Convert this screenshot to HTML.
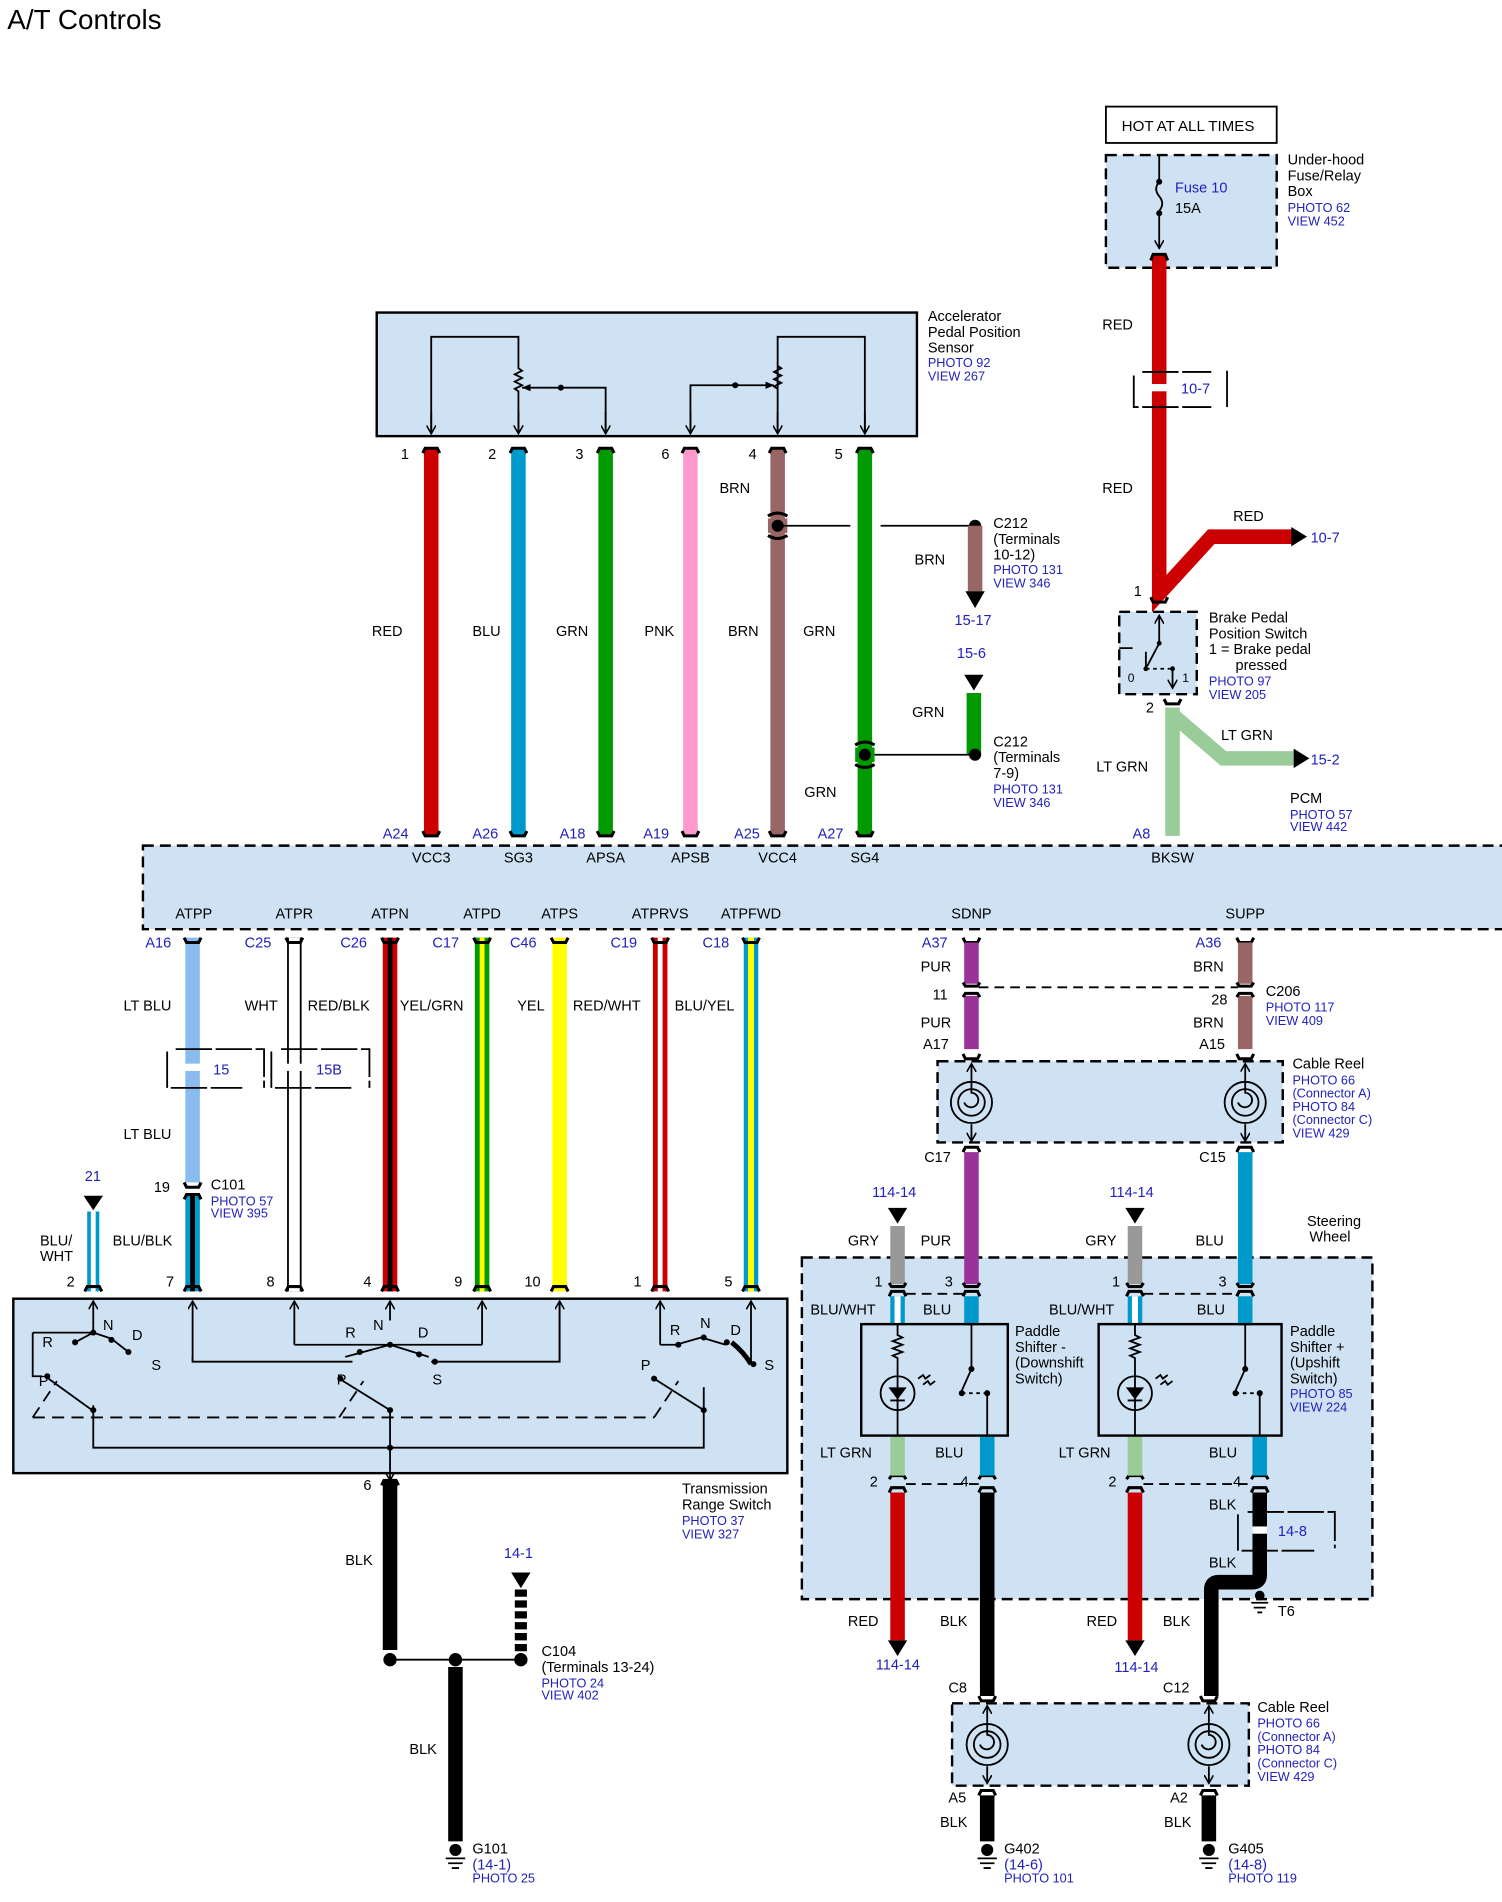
<!DOCTYPE html>
<html><head><meta charset="utf-8"><style>
html,body{margin:0;padding:0;background:#fff;}
svg{display:block;}
text{font-family:"Liberation Sans",Arial,sans-serif;font-size:12px;fill:#000;}
.b{fill:#2222bb;font-size:10.5px;}
.bl{fill:#2222bb;font-size:12px;}
g.bl text{fill:#2222bb;}
.s{font-size:10px;}
.box{fill:#cfe2f3;stroke:#000;stroke-width:2;}
.dbox{fill:#cfe2f3;stroke:#000;stroke-width:2;stroke-dasharray:9,5;}
.ln{fill:none;stroke:#000;stroke-width:1.5;}
.cn{fill:none;stroke:#000;stroke-width:2.5;}
</style></head><body>
<svg width="1502" height="1902" viewBox="0 0 1240 1570" preserveAspectRatio="none" xmlns="http://www.w3.org/2000/svg">
<defs>
<marker id="ar" markerWidth="8" markerHeight="8" refX="7" refY="4" orient="auto" markerUnits="userSpaceOnUse"><path d="M0,0 L7,4 L0,8" fill="none" stroke="#000" stroke-width="1.3"/></marker>
<marker id="af" markerWidth="8" markerHeight="8" refX="7" refY="4" orient="auto" markerUnits="userSpaceOnUse"><path d="M0,1 L7,4 L0,7 z" fill="#000"/></marker>
</defs>
<text x="6" y="24" style="font-size:23px">A/T Controls</text>

<!-- HOT AT ALL TIMES -->
<rect x="913" y="88" width="141" height="30" fill="#fff" stroke="#000" stroke-width="1.5"/>
<text x="926" y="108" style="font-size:12.5px">HOT AT ALL TIMES</text>
<rect x="913" y="128" width="141" height="93" class="dbox"/>
<path d="M957,128 V150 M957,150 q-5,6 0,12 q5,6 0,12 M957,174 V205" class="ln" marker-end="url(#ar)"/>
<circle cx="957" cy="150" r="2.5"/><circle cx="957" cy="176" r="2.5"/>
<text x="970" y="159" class="bl">Fuse 10</text><text x="970" y="176">15A</text>
<text x="1063" y="136">Under-hood</text><text x="1063" y="149">Fuse/Relay</text><text x="1063" y="162">Box</text>
<text x="1063" y="175" class="b">PHOTO 62</text><text x="1063" y="186" class="b">VIEW 452</text>

<!-- red wire -->
<path d="M957,210 V490 L1000,443 H1068" fill="none" stroke="#cc0000" stroke-width="12" stroke-linejoin="miter"/>
<path d="M1066,435 L1079,443 L1066,451 z"/>
<text x="1082" y="448" class="bl">10-7</text>
<text x="1018" y="430">RED</text>
<text x="910" y="272">RED</text><text x="910" y="407">RED</text>
<rect x="946" y="317" width="22" height="6" fill="#fff"/>
<path d="M936,310 V336 H1000 M943,307 H1000 M1013,306 V336" class="ln" stroke-width="1" stroke-dasharray="30,3"/>
<text x="975" y="325" class="bl">10-7</text>
<path d="M950,215 L952,210 H962 L964,215" class="cn"/>
<path d="M950,493 L952,497 H962 L964,493" class="cn"/>
<text x="936" y="492">1</text>

<!-- brake switch -->
<rect x="924" y="505" width="64" height="68" class="dbox"/>
<path d="M957,525 V508" class="ln" marker-end="url(#ar)"/>
<path d="M957,525 V531 L947,550" class="ln"/><circle cx="957" cy="531" r="2"/><circle cx="946" cy="552" r="2"/><circle cx="968" cy="552" r="2"/>
<path d="M946,552 H968" class="ln" stroke-dasharray="3,3"/><path d="M968,552 V568" class="ln" marker-end="url(#ar)"/>
<path d="M924,535 H935 M946,538 V552" class="ln"/>
<text x="931" y="563" class="s">0</text><text x="976" y="563" class="s">1</text>
<text x="998" y="514">Brake Pedal</text><text x="998" y="527">Position Switch</text><text x="998" y="540">1 = Brake pedal</text><text x="1020" y="553">pressed</text>
<text x="998" y="566" class="b">PHOTO 97</text><text x="998" y="577" class="b">VIEW 205</text>
<path d="M961,577 L963,581 H973 L975,577" class="cn"/>
<text x="946" y="588">2</text>
<path d="M968,584 V690 M968,590 L1010,626 H1068" fill="none" stroke="#99cc99" stroke-width="12"/>
<path d="M1068,618 L1081,626 L1068,634 z"/>
<text x="1082" y="631" class="bl">15-2</text>
<text x="1008" y="611">LT GRN</text><text x="905" y="637">LT GRN</text>
<text x="1065" y="663">PCM</text><text x="1065" y="676" class="b">PHOTO 57</text><text x="1065" y="686" class="b">VIEW 442</text>
<text x="935" y="692" class="bl">A8</text>

<!-- APP sensor -->
<rect x="311" y="258" width="446" height="102" class="box"/>
<text x="766" y="265">Accelerator</text><text x="766" y="278">Pedal Position</text><text x="766" y="291">Sensor</text>
<text x="766" y="303" class="b">PHOTO 92</text><text x="766" y="314" class="b">VIEW 267</text>
<path d="M356,358 V278 H428 V304 l3,2 -6,3 6,3 -6,3 6,3 -6,3 3,2 V358" class="ln"/>
<path d="M356,340 V358" class="ln" marker-end="url(#ar)"/><path d="M428,340 V358" class="ln" marker-end="url(#ar)"/>
<path d="M500,340 V358" class="ln" marker-end="url(#ar)"/>
<path d="M500,358 V320 H463" class="ln"/><path d="M463,320 H431" class="ln" marker-end="url(#af)"/><circle cx="463" cy="320" r="2.5"/>
<path d="M570,358 V318 H607" class="ln"/><path d="M607,318 H639" class="ln" marker-end="url(#af)"/><circle cx="607" cy="318" r="2.5"/>
<path d="M570,340 V358" class="ln" marker-end="url(#ar)"/>
<path d="M642,358 V278 H714 V358 M642,302 l3,2 -6,3 6,3 -6,3 6,3 -6,3 3,2" class="ln"/>
<path d="M642,340 V358" class="ln" marker-end="url(#ar)"/><path d="M714,340 V358" class="ln" marker-end="url(#ar)"/>

<g stroke-width="12" fill="none">
<path d="M356,370 V690" stroke="#cc0000"/><path d="M428,370 V690" stroke="#0099cc"/>
<path d="M500,370 V690" stroke="#009900"/><path d="M570,370 V690" stroke="#ff99cc"/>
<path d="M642,370 V690" stroke="#996666"/><path d="M714,370 V690" stroke="#009900"/>
</g>
<g class="cn">
<path d="M349,374 L351,370 H361 L363,374"/><path d="M421,374 L423,370 H433 L435,374"/><path d="M493,374 L495,370 H505 L507,374"/>
<path d="M563,374 L565,370 H575 L577,374"/><path d="M635,374 L637,370 H647 L649,374"/><path d="M707,374 L709,370 H719 L721,374"/>
<path d="M349,686 L351,690 H361 L363,686"/><path d="M421,686 L423,690 H433 L435,686"/><path d="M493,686 L495,690 H505 L507,686"/>
<path d="M563,686 L565,690 H575 L577,686"/><path d="M635,686 L637,690 H647 L649,686"/><path d="M707,686 L709,690 H719 L721,686"/>
</g>
<text x="331" y="379">1</text><text x="403" y="379">2</text><text x="475" y="379">3</text><text x="546" y="379">6</text><text x="618" y="379">4</text><text x="689" y="379">5</text>
<text x="307" y="525">RED</text><text x="390" y="525">BLU</text><text x="459" y="525">GRN</text><text x="532" y="525">PNK</text><text x="601" y="525">BRN</text><text x="663" y="525">GRN</text>
<text x="594" y="407">BRN</text><text x="664" y="658">GRN</text>
<text x="316" y="692" class="bl">A24</text><text x="390" y="692" class="bl">A26</text><text x="462" y="692" class="bl">A18</text><text x="531" y="692" class="bl">A19</text><text x="606" y="692" class="bl">A25</text><text x="675" y="692" class="bl">A27</text>

<!-- C212 -->
<rect x="634" y="428" width="16" height="12" fill="#996666"/>
<path d="M634,426 q8,-5 16,0 M634,442 q8,5 16,0" class="cn"/>
<circle cx="642" cy="434" r="5"/>
<path d="M642,434 H702 M727,434 H805" class="ln"/><circle cx="805" cy="434" r="5"/>
<path d="M805,434 V488" stroke="#996666" stroke-width="12"/><path d="M797,488 L805,502 L813,488 z"/>
<text x="755" y="466">BRN</text><text x="788" y="516" class="bl">15-17</text>
<text x="820" y="436">C212</text><text x="820" y="449">(Terminals</text><text x="820" y="462">10-12)</text><text x="820" y="474" class="b">PHOTO 131</text><text x="820" y="485" class="b">VIEW 346</text>
<text x="790" y="543" class="bl">15-6</text><path d="M796,557 L812,557 L804,570 z"/>
<path d="M804,572 V623" stroke="#009900" stroke-width="12"/><circle cx="805" cy="623" r="5"/>
<path d="M714,623 H805" class="ln"/>
<rect x="706" y="617" width="16" height="12" fill="#009900"/>
<path d="M706,615 q8,-5 16,0 M706,631 q8,5 16,0" class="cn"/><circle cx="714" cy="623" r="5"/>
<text x="753" y="592">GRN</text>
<text x="820" y="616">C212</text><text x="820" y="629">(Terminals</text><text x="820" y="642">7-9)</text><text x="820" y="655" class="b">PHOTO 131</text><text x="820" y="666" class="b">VIEW 346</text>

<!-- PCM -->
<rect x="118" y="698" width="1130" height="69" class="dbox"/>
<g class="s" text-anchor="middle">
<text x="356" y="712">VCC3</text><text x="428" y="712">SG3</text><text x="500" y="712">APSA</text><text x="570" y="712">APSB</text><text x="642" y="712">VCC4</text><text x="714" y="712">SG4</text><text x="968" y="712">BKSW</text>
<text x="160" y="758">ATPP</text><text x="243" y="758">ATPR</text><text x="322" y="758">ATPN</text><text x="398" y="758">ATPD</text><text x="462" y="758">ATPS</text><text x="545" y="758">ATPRVS</text><text x="620" y="758">ATPFWD</text><text x="802" y="758">SDNP</text><text x="1028" y="758">SUPP</text>
</g>
<g class="bl">
<text x="120" y="782">A16</text><text x="202" y="782">C25</text><text x="281" y="782">C26</text><text x="357" y="782">C17</text><text x="421" y="782">C46</text><text x="504" y="782">C19</text><text x="580" y="782">C18</text><text x="761" y="782">A37</text><text x="987" y="782">A36</text>
</g>

<!-- lower left wires -->
<g fill="none">
<path d="M159,774 V976" stroke="#88bbee" stroke-width="12"/>
<path d="M159,986 V1066" stroke="#0099cc" stroke-width="12"/><path d="M159,986 V1066" stroke="#000" stroke-width="4"/>
<path d="M243,774 V1066" stroke="#000" stroke-width="12"/><path d="M243,774 V1066" stroke="#fff" stroke-width="9"/>
<path d="M322,774 V1066" stroke="#cc0000" stroke-width="12"/><path d="M322,774 V1066" stroke="#000" stroke-width="4"/>
<path d="M398,774 V1066" stroke="#009900" stroke-width="12"/><path d="M398,774 V1066" stroke="#ffff00" stroke-width="4"/>
<path d="M462,774 V1066" stroke="#ffff00" stroke-width="12"/>
<path d="M545,774 V1066" stroke="#cc0000" stroke-width="12"/><path d="M545,774 V1066" stroke="#fff" stroke-width="4"/>
<path d="M620,774 V1066" stroke="#0099cc" stroke-width="12"/><path d="M620,774 V1066" stroke="#ffff00" stroke-width="5"/>
<path d="M77,1000 V1066" stroke="#0099cc" stroke-width="10"/><path d="M77,1000 V1066" stroke="#fff" stroke-width="4"/>
</g>
<g class="cn">
<path d="M152,774 L154,778 H164 L166,774"/><path d="M236,774 L238,778 H248 L250,774"/><path d="M315,774 L317,778 H327 L329,774"/><path d="M391,774 L393,778 H403 L405,774"/><path d="M455,774 L457,778 H467 L469,774"/><path d="M538,774 L540,778 H550 L552,774"/><path d="M613,774 L615,778 H625 L627,774"/>
<path d="M795,774 L797,778 H807 L809,774"/><path d="M1021,774 L1023,778 H1033 L1035,774"/>
<path d="M152,976 L154,980 H164 L166,976"/><path d="M152,990 L154,986 H164 L166,990"/>
<path d="M70,1066 L72,1062 H82 L84,1066"/><path d="M152,1066 L154,1062 H164 L166,1066"/><path d="M236,1066 L238,1062 H248 L250,1066"/><path d="M315,1066 L317,1062 H327 L329,1066"/><path d="M391,1066 L393,1062 H403 L405,1066"/><path d="M455,1066 L457,1062 H467 L469,1066"/><path d="M538,1066 L540,1062 H550 L552,1066"/><path d="M613,1066 L615,1062 H625 L627,1066"/>
</g>
<text x="102" y="834">LT BLU</text><text x="202" y="834">WHT</text><text x="254" y="834">RED/BLK</text><text x="330" y="834">YEL/GRN</text><text x="427" y="834">YEL</text><text x="473" y="834">RED/WHT</text><text x="557" y="834">BLU/YEL</text>
<rect x="146" y="878" width="26" height="6" fill="#fff"/><rect x="230" y="878" width="26" height="6" fill="#fff"/>
<path d="M138,868 V898 H200 M145,866 H218 V898" class="ln" stroke-width="1" stroke-dasharray="30,3"/>
<path d="M224,868 V898 H290 M232,866 H305 V898" class="ln" stroke-width="1" stroke-dasharray="30,3"/>
<text x="176" y="887" class="bl">15</text><text x="261" y="887" class="bl">15B</text>
<text x="102" y="940">LT BLU</text>
<text x="127" y="984">19</text><text x="174" y="982">C101</text><text x="174" y="995" class="b">PHOTO 57</text><text x="174" y="1005" class="b">VIEW 395</text>
<text x="70" y="975" class="bl">21</text><path d="M69,987 L85,987 L77,999 z"/>
<text x="33" y="1028">BLU/</text><text x="33" y="1041">WHT</text><text x="93" y="1028">BLU/BLK</text>
<text x="55" y="1062">2</text><text x="137" y="1062">7</text><text x="220" y="1062">8</text><text x="300" y="1062">4</text><text x="375" y="1062">9</text><text x="433" y="1062">10</text><text x="523" y="1062">1</text><text x="598" y="1062">5</text>

<!-- transmission range switch -->
<rect x="11" y="1072" width="639" height="144" class="box"/>
<g class="ln">
<path d="M77,1094 V1074" marker-end="url(#ar)"/><path d="M159,1124 V1074" marker-end="url(#ar)"/><path d="M243,1110 V1074" marker-end="url(#ar)"/><path d="M322,1090 V1074" marker-end="url(#ar)"/><path d="M398,1110 V1074" marker-end="url(#ar)"/><path d="M462,1124 V1074" marker-end="url(#ar)"/><path d="M545,1110 V1074" marker-end="url(#ar)"/><path d="M620,1124 V1074" marker-end="url(#ar)"/>
<path d="M77,1094 V1100 M27,1100 H77 M27,1100 V1136 H35"/>
<path d="M62,1108 l15,-8 l15,5 l14,11"/><path d="M40,1138 l36,26"/><path d="M77,1160 V1195 H581 V1145"/>
<path d="M159,1120 V1124 H291 M243,1110 H398 M462,1076 V1124 H356"/>
<path d="M285,1120 l37,-10 l32,10"/><path d="M280,1138 l42,26 V1215"/><path d="M322,1215 V1222" marker-end="url(#ar)"/>
<path d="M545,1110 H558 l21,-6 l20,6"/><path d="M540,1138 l41,26"/>
<path d="M27,1170 l20,-30 M27,1170 H540 M280,1170 l20,-30 M540,1170 l20,-30" stroke-dasharray="10,6"/>
</g>
<path d="M604,1108 q10,8 16,18" stroke="#000" stroke-width="4" fill="none"/>
<circle cx="77" cy="1100" r="2.5"/><circle cx="62" cy="1108" r="2.5"/><circle cx="92" cy="1106" r="2.5"/><circle cx="106" cy="1116" r="2.5"/><circle cx="39" cy="1136" r="2.5"/><circle cx="77" cy="1164" r="2.5"/>
<circle cx="322" cy="1110" r="2.5"/><circle cx="297" cy="1116" r="2.5"/><circle cx="346" cy="1118" r="2.5"/><circle cx="359" cy="1124" r="2.5"/><circle cx="281" cy="1138" r="2.5"/><circle cx="322" cy="1164" r="2.5"/><circle cx="322" cy="1195" r="2.5"/>
<circle cx="560" cy="1110" r="2.5"/><circle cx="581" cy="1104" r="2.5"/><circle cx="600" cy="1108" r="2.5"/><circle cx="622" cy="1126" r="2.5"/><circle cx="540" cy="1138" r="2.5"/><circle cx="581" cy="1164" r="2.5"/>
<text x="35" y="1112">R</text><text x="85" y="1098">N</text><text x="109" y="1106">D</text><text x="125" y="1131">S</text><text x="32" y="1144">P</text>
<text x="285" y="1104">R</text><text x="308" y="1098">N</text><text x="345" y="1104">D</text><text x="357" y="1143">S</text><text x="278" y="1143">P</text>
<text x="553" y="1102">R</text><text x="578" y="1096">N</text><text x="603" y="1102">D</text><text x="631" y="1131">S</text><text x="529" y="1131">P</text>
<text x="563" y="1233">Transmission</text><text x="563" y="1246">Range Switch</text><text x="563" y="1259" class="b">PHOTO 37</text><text x="563" y="1270" class="b">VIEW 327</text>

<path d="M322,1222 V1362 M376,1376 V1520" stroke="#000" stroke-width="12"/>
<path d="M315,1226 L317,1222 H327 L329,1226" class="cn"/>
<path d="M322,1370 H430" class="ln"/>
<circle cx="322" cy="1370" r="5.5"/><circle cx="376" cy="1370" r="5.5"/><circle cx="430" cy="1370" r="5.5"/>
<path d="M430,1312 V1364" stroke="#000" stroke-width="10" stroke-dasharray="6,3"/>
<path d="M422,1298 L438,1298 L430,1311 z"/>
<text x="300" y="1230">6</text><text x="285" y="1292">BLK</text><text x="338" y="1448">BLK</text>
<text x="416" y="1286" class="bl">14-1</text>
<text x="447" y="1367">C104</text><text x="447" y="1380">(Terminals 13-24)</text><text x="447" y="1393" class="b">PHOTO 24</text><text x="447" y="1403" class="b">VIEW 402</text>
<circle cx="376" cy="1527" r="5"/><path d="M368,1534 H384 M370,1538 H382 M373,1542 H379" class="ln"/>
<text x="390" y="1530">G101</text><text x="390" y="1543" class="bl">(14-1)</text><text x="390" y="1554" class="b">PHOTO 25</text>

<!-- right lower: PUR / BRN -->
<path d="M802,778 V812 M802,822 V866" stroke="#993399" stroke-width="12"/>
<path d="M1028,778 V812 M1028,822 V866" stroke="#996666" stroke-width="12"/>
<path d="M795,811 L797,814 H807 L809,811 M795,823 L797,820 H807 L809,823 M1021,811 L1023,814 H1033 L1035,811 M1021,823 L1023,820 H1033 L1035,823" class="cn"/>
<path d="M808,815 H1022" class="ln" stroke-dasharray="8,5"/>
<text x="760" y="802">PUR</text><text x="770" y="825">11</text><text x="760" y="848">PUR</text><text x="762" y="866">A17</text>
<text x="985" y="802">BRN</text><text x="1000" y="829">28</text><text x="985" y="848">BRN</text><text x="990" y="866">A15</text>
<text x="1045" y="822">C206</text><text x="1045" y="835" class="b">PHOTO 117</text><text x="1045" y="846" class="b">VIEW 409</text>
<path d="M795,870 L797,874 H807 L809,870 M1021,870 L1023,874 H1033 L1035,870" class="cn"/>
<rect x="774" y="876" width="285" height="67" class="dbox"/>
<g class="ln">
<path d="M802,892 V878" marker-end="url(#ar)"/><path d="M802,928 V942" marker-end="url(#ar)"/>
<circle cx="802" cy="910" r="17"/><circle cx="802" cy="910" r="11"/><path d="M802,892 V902 a6,6 0 1 1 -6,8"/>
<path d="M1028,892 V878" marker-end="url(#ar)"/><path d="M1028,928 V942" marker-end="url(#ar)"/>
<circle cx="1028" cy="910" r="17"/><circle cx="1028" cy="910" r="11"/><path d="M1028,892 V902 a6,6 0 1 1 -6,8"/>
</g>
<text x="1067" y="882">Cable Reel</text><text x="1067" y="895" class="b">PHOTO 66</text><text x="1067" y="906" class="b">(Connector A)</text><text x="1067" y="917" class="b">PHOTO 84</text><text x="1067" y="928" class="b">(Connector C)</text><text x="1067" y="939" class="b">VIEW 429</text>
<path d="M795,951 L797,947 H807 L809,951 M1021,951 L1023,947 H1033 L1035,951" class="cn"/>
<text x="763" y="959">C17</text><text x="990" y="959">C15</text>

<text x="1079" y="1012">Steering</text><text x="1081" y="1025">Wheel</text>
<rect x="662" y="1038" width="471" height="282" class="dbox"/>
<path d="M802,951 V1060" stroke="#993399" stroke-width="12"/>
<path d="M1028,951 V1060" stroke="#0099cc" stroke-width="12"/>
<path d="M741,1012 V1060 M937,1012 V1060" stroke="#999999" stroke-width="12"/>
<text x="720" y="988" class="bl">114-14</text><text x="916" y="988" class="bl">114-14</text>
<path d="M733,997 L749,997 L741,1010 z M929,997 L945,997 L937,1010 z"/>
<text x="700" y="1028">GRY</text><text x="760" y="1028">PUR</text><text x="896" y="1028">GRY</text><text x="987" y="1028">BLU</text>
<g class="cn">
<path d="M734,1059 L736,1062 H746 L748,1059 M734,1070 L736,1066 H746 L748,1070"/>
<path d="M795,1059 L797,1062 H807 L809,1059 M795,1070 L797,1066 H807 L809,1070"/>
<path d="M930,1059 L932,1062 H942 L944,1059 M930,1070 L932,1066 H942 L944,1070"/>
<path d="M1021,1059 L1023,1062 H1033 L1035,1059 M1021,1070 L1023,1066 H1033 L1035,1070"/>
<path d="M734,1221 L736,1218 H746 L748,1221 M734,1232 L736,1228 H746 L748,1232"/>
<path d="M808,1221 L810,1218 H820 L822,1221 M808,1232 L810,1228 H820 L822,1232"/>
<path d="M930,1221 L932,1218 H942 L944,1221 M930,1232 L932,1228 H942 L944,1232"/>
<path d="M1033,1221 L1035,1218 H1045 L1047,1221 M1033,1232 L1035,1228 H1045 L1047,1232"/>
</g>
<path d="M748,1068 H795 M944,1068 H1021 M748,1225 H808 M944,1225 H1033" class="ln" stroke-dasharray="8,5"/>
<text x="722" y="1062">1</text><text x="780" y="1062">3</text><text x="918" y="1062">1</text><text x="1006" y="1062">3</text>
<g fill="none">
<path d="M741,1070 V1094 M937,1070 V1094" stroke="#0099cc" stroke-width="12"/><path d="M741,1070 V1094 M937,1070 V1094" stroke="#fff" stroke-width="5"/>
<path d="M802,1070 V1094 M1028,1070 V1094" stroke="#0099cc" stroke-width="12"/>
<path d="M741,1186 V1218 M937,1186 V1218" stroke="#99cc99" stroke-width="12"/>
<path d="M815,1186 V1218 M1040,1186 V1218" stroke="#0099cc" stroke-width="12"/>
<path d="M741,1232 V1354 M937,1232 V1354" stroke="#cc0000" stroke-width="12"/>
<path d="M815,1232 V1400" stroke="#000" stroke-width="12"/>
<path d="M1040,1232 V1300 Q1040,1306 1034,1306 H1006 Q1000,1306 1000,1312 V1400" stroke="#000" stroke-width="12"/>
</g>
<text x="669" y="1085">BLU/WHT</text><text x="762" y="1085">BLU</text><text x="866" y="1085">BLU/WHT</text><text x="988" y="1085">BLU</text>
<!-- paddle boxes -->
<rect x="711" y="1093" width="121" height="92" fill="none" stroke="#000" stroke-width="2"/>
<rect x="907" y="1093" width="151" height="92" fill="none" stroke="#000" stroke-width="2"/>
<g class="ln">
<path d="M741,1093 V1102 l4,2 -8,3 8,3 -8,3 8,3 -8,3 4,2 V1185"/><circle cx="741" cy="1150" r="14"/><path d="M735,1146 h12 l-6,8 z M735,1156 h12" fill="#000"/>
<path d="M802,1093 V1130 l-8,18"/><path d="M794,1150 H815" stroke-dasharray="3,3"/><path d="M815,1150 V1185"/>
<path d="M758,1138 l4,-3 2,3 4,-3 M762,1143 l4,-3 2,3 4,-3"/>
<path d="M937,1093 V1102 l4,2 -8,3 8,3 -8,3 8,3 -8,3 4,2 V1185"/><circle cx="937" cy="1150" r="14"/><path d="M931,1146 h12 l-6,8 z M931,1156 h12" fill="#000"/>
<path d="M1028,1093 V1130 l-8,18"/><path d="M1020,1150 H1040" stroke-dasharray="3,3"/><path d="M1040,1150 V1185"/>
<path d="M954,1138 l4,-3 2,3 4,-3 M958,1143 l4,-3 2,3 4,-3"/>
</g>
<circle cx="802" cy="1130" r="2.5"/><circle cx="794" cy="1150" r="2.5"/><circle cx="815" cy="1150" r="2.5"/>
<circle cx="1028" cy="1130" r="2.5"/><circle cx="1020" cy="1150" r="2.5"/><circle cx="1040" cy="1150" r="2.5"/>
<text x="838" y="1103">Paddle</text><text x="838" y="1116">Shifter -</text><text x="838" y="1129">(Downshift</text><text x="838" y="1142">Switch)</text>
<text x="1065" y="1103">Paddle</text><text x="1065" y="1116">Shifter +</text><text x="1065" y="1129">(Upshift</text><text x="1065" y="1142">Switch)</text><text x="1065" y="1154" class="b">PHOTO 85</text><text x="1065" y="1165" class="b">VIEW 224</text>
<text x="677" y="1203">LT GRN</text><text x="772" y="1203">BLU</text><text x="874" y="1203">LT GRN</text><text x="998" y="1203">BLU</text>
<text x="718" y="1227">2</text><text x="793" y="1227">4</text><text x="915" y="1227">2</text><text x="1018" y="1227">4</text>
<path d="M733,1354 L749,1354 L741,1367 z M929,1354 L945,1354 L937,1367 z"/>
<text x="700" y="1342">RED</text><text x="776" y="1342">BLK</text><text x="897" y="1342">RED</text><text x="960" y="1342">BLK</text>
<text x="723" y="1378" class="bl">114-14</text><text x="920" y="1380" class="bl">114-14</text>
<text x="998" y="1246">BLK</text><text x="998" y="1294">BLK</text>
<rect x="1034" y="1260" width="12" height="6" fill="#fff"/>
<path d="M1022,1250 V1280 H1085 M1030,1248 H1102 V1278" class="ln" stroke-width="1" stroke-dasharray="30,3"/>
<text x="1055" y="1268" class="bl">14-8</text>
<circle cx="1040" cy="1317" r="4"/><path d="M1033,1323 H1047 M1035,1327 H1045 M1038,1331 H1042" class="ln"/>
<text x="1055" y="1334">T6</text>
<text x="783" y="1397">C8</text><text x="960" y="1397">C12</text>
<path d="M808,1400 L810,1404 H820 L822,1400 M991,1400 L993,1404 H1003 L1005,1400" class="cn"/>
<rect x="786" y="1406" width="245" height="68" class="dbox"/>
<g class="ln">
<path d="M815,1422 V1408" marker-end="url(#ar)"/><path d="M815,1458 V1472" marker-end="url(#ar)"/>
<circle cx="815" cy="1440" r="17"/><circle cx="815" cy="1440" r="11"/><path d="M815,1422 V1432 a6,6 0 1 1 -6,8"/>
<path d="M998,1422 V1408" marker-end="url(#ar)"/><path d="M998,1458 V1472" marker-end="url(#ar)"/>
<circle cx="998" cy="1440" r="17"/><circle cx="998" cy="1440" r="11"/><path d="M998,1422 V1432 a6,6 0 1 1 -6,8"/>
</g>
<text x="1038" y="1413">Cable Reel</text><text x="1038" y="1426" class="b">PHOTO 66</text><text x="1038" y="1437" class="b">(Connector A)</text><text x="1038" y="1448" class="b">PHOTO 84</text><text x="1038" y="1459" class="b">(Connector C)</text><text x="1038" y="1470" class="b">VIEW 429</text>
<path d="M808,1482 L810,1478 H820 L822,1482 M991,1482 L993,1478 H1003 L1005,1482" class="cn"/>
<path d="M815,1482 V1520 M998,1482 V1520" stroke="#000" stroke-width="12"/>
<text x="783" y="1488">A5</text><text x="966" y="1488">A2</text><text x="776" y="1508">BLK</text><text x="961" y="1508">BLK</text>
<circle cx="815" cy="1527" r="5"/><path d="M807,1534 H823 M809,1538 H821 M812,1542 H818" class="ln"/>
<circle cx="998" cy="1527" r="5"/><path d="M990,1534 H1006 M992,1538 H1004 M995,1542 H1001" class="ln"/>
<text x="829" y="1530">G402</text><text x="829" y="1543" class="bl">(14-6)</text><text x="829" y="1554" class="b">PHOTO 101</text>
<text x="1014" y="1530">G405</text><text x="1014" y="1543" class="bl">(14-8)</text><text x="1014" y="1554" class="b">PHOTO 119</text>
</svg>
</body></html>
